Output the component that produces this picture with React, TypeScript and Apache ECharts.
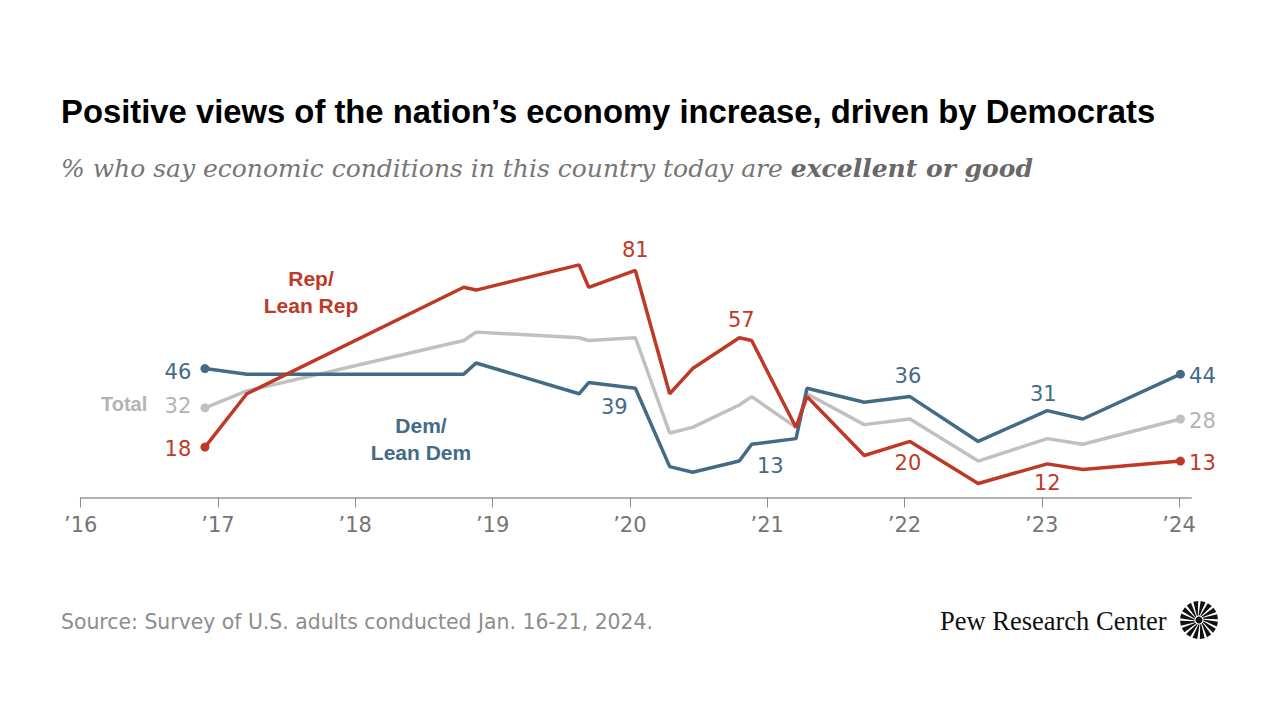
import React, { useEffect, useRef } from "react";
import * as echarts from "echarts";

// Survey dates as decimal years
const surveyYears = [
  2016.905, 2017.21, 2018.79, 2018.88, 2019.63, 2019.7, 2020.04, 2020.29, 2020.457,
  2020.797, 2020.887, 2021.21, 2021.29, 2021.707, 2022.04, 2022.537, 2023.04, 2023.3, 2024.01,
];
const repValues = [18, 37, 75, 74, 83, 75, 81, 37, 46, 57, 56, 25, 36, 15, 20, 5, 12, 10, 13];
const totalValues = [32, 38, 56, 59, 57, 56, 57, 23, 25, 33, 36, 25, 37, 26, 28, 13, 21, 19, 28];
const demValues = [46, 44, 44, 48, 37, 41, 39, 11, 9, 13, 19, 21, 39, 34, 36, 20, 31, 28, 44];

const yearTicks = [2016, 2017, 2018, 2019, 2020, 2021, 2022, 2023, 2024];
const yearTickLabels = ["\u201916", "\u201917", "\u201918", "\u201919", "\u201920", "\u201921", "\u201922", "\u201923", "\u201924"];

const title = "Positive views of the nation\u2019s economy increase, driven by Democrats";
const subtitlePlain = "% who say economic conditions in this country today are ";
const subtitleBold = "excellent or good";
const sourceText = "Source: Survey of U.S. adults conducted Jan. 16-21, 2024.";
const brandText = "Pew Research Center";

const RED = "#bf3a26";
const BLUE = "#436b86";
const GRAY = "#c0c0c0";
const GRAY_TEXT = "#b3b3b3";

// label placement (offset of label centre from its point), keyed by data index
const repLabelOffsets: Record<number, number[]> = {
  0: [-27, 2], 6: [0, -20], 9: [2, -18], 14: [-2, 22], 16: [0, 19], 18: [22, 2],
};
const totalLabelOffsets: Record<number, number[]> = { 0: [-27, -2], 18: [22, 2] };
const demLabelOffsets: Record<number, number[]> = {
  0: [-27, 3], 6: [-21, 19], 9: [31, 5], 14: [-2, -21], 16: [-4, -17], 18: [22, 2],
};

function buildData(values: number[], offsets: Record<number, number[]>, color: string) {
  return values.map((v, i) => {
    const item: any = { value: [surveyYears[i], v] };
    if (offsets[i]) {
      item.label = {
        show: true,
        position: "inside",
        offset: offsets[i],
        color,
      };
    }
    return item;
  });
}

function logoElements(cx: number, cy: number) {
  const els: any[] = [];
  const n = 16;
  for (let k = 0; k < n; k++) {
    const a = (k / n) * Math.PI * 2;
    const r0 = 4.5;
    const r1 = 19;
    const tw = 0.22;
    const pts = [
      [cx + r0 * Math.cos(a - 0.12), cy + r0 * Math.sin(a - 0.12)],
      [cx + r1 * Math.cos(a + tw - 0.13), cy + r1 * Math.sin(a + tw - 0.13)],
      [cx + r1 * Math.cos(a + tw + 0.13), cy + r1 * Math.sin(a + tw + 0.13)],
      [cx + r0 * Math.cos(a + 0.12), cy + r0 * Math.sin(a + 0.12)],
    ];
    els.push({ type: "polygon", shape: { points: pts }, style: { fill: "#111" } });
  }
  els.push({ type: "circle", shape: { cx, cy, r: 3.5 }, style: { fill: "#111" } });
  return els;
}

export default function App() {
  const ref = useRef<HTMLDivElement>(null);
  useEffect(() => {
    if (!ref.current) return;
    const chart = echarts.init(ref.current, null, { renderer: "svg" });
    const labelFont = { fontFamily: "DejaVu Sans", fontSize: 21 };
    const endSymbol = (count: number) => (_v: any, p: any) =>
      p.dataIndex === 0 || p.dataIndex === count - 1 ? 9 : 0;

    const option: any = {
      animation: false,
      backgroundColor: "#ffffff",
      grid: { left: 80.7, right: 89, top: 217.2, bottom: 222.5, containLabel: false },
      xAxis: {
        type: "value",
        min: 2016,
        max: 2024.087,
        interval: 1,
        offset: 1,
        splitLine: { show: false },
        axisLine: { show: true, lineStyle: { color: "#b3b3b3", width: 2 } },
        axisTick: {
          show: true,
          length: 10,
          customValues: yearTicks,
          lineStyle: { color: "#8c8c8c", width: 1 },
        },
        axisLabel: {
          show: true,
          customValues: yearTicks,
          margin: 16,
          color: "#757575",
          fontFamily: "DejaVu Sans",
          fontSize: 21,
          formatter: (v: number) => {
            const i = yearTicks.indexOf(Math.round(v));
            return i >= 0 ? yearTickLabels[i] : "";
          },
        },
      },
      yAxis: {
        type: "value",
        min: 0,
        max: 100,
        show: false,
        splitLine: { show: false },
      },
      series: [
        {
          name: "Total",
          type: "line",
          z: 2,
          silent: true,
          symbol: "circle",
          showSymbol: true,
          symbolSize: endSymbol(totalValues.length),
          itemStyle: { color: GRAY },
          lineStyle: { color: GRAY, width: 3.5 },
          label: { show: false, ...labelFont, color: GRAY_TEXT, formatter: (p: any) => String(p.value[1]) },
          data: buildData(totalValues, totalLabelOffsets, GRAY_TEXT),
        },
        {
          name: "Dem/Lean Dem",
          type: "line",
          z: 3,
          silent: true,
          symbol: "circle",
          showSymbol: true,
          symbolSize: endSymbol(demValues.length),
          itemStyle: { color: BLUE },
          lineStyle: { color: BLUE, width: 3.5 },
          label: { show: false, ...labelFont, color: BLUE, formatter: (p: any) => String(p.value[1]) },
          data: buildData(demValues, demLabelOffsets, BLUE),
        },
        {
          name: "Rep/Lean Rep",
          type: "line",
          z: 4,
          silent: true,
          symbol: "circle",
          showSymbol: true,
          symbolSize: endSymbol(repValues.length),
          itemStyle: { color: RED },
          lineStyle: { color: RED, width: 3.5 },
          label: { show: false, ...labelFont, color: RED, formatter: (p: any) => String(p.value[1]) },
          data: buildData(repValues, repLabelOffsets, RED),
        },
      ],
      graphic: [
        {
          type: "text",
          x: 61,
          y: 111,
          style: {
            text: title,
            fill: "#000",
            font: "bold 32.8px 'Liberation Sans'",
            verticalAlign: "middle",
          },
        },
        {
          type: "text",
          x: 61,
          y: 168,
          style: {
            text: "{a|" + subtitlePlain + "}{b|" + subtitleBold + "}",
            verticalAlign: "middle",
            rich: {
              a: { fontFamily: "DejaVu Serif", fontStyle: "italic", fontSize: 25, fill: "#767676" },
              b: { fontFamily: "DejaVu Serif", fontStyle: "italic", fontWeight: "bold", fontSize: 25, fill: "#686868" },
            },
          },
        },
        {
          type: "text",
          x: 311,
          y: 292,
          style: {
            text: "Rep/\nLean Rep",
            fill: RED,
            font: "bold 21px 'Liberation Sans'",
            align: "center",
            verticalAlign: "middle",
            lineHeight: 27,
          },
        },
        {
          type: "text",
          x: 421,
          y: 438.5,
          style: {
            text: "Dem/\nLean Dem",
            fill: BLUE,
            font: "bold 21px 'Liberation Sans'",
            align: "center",
            verticalAlign: "middle",
            lineHeight: 27,
          },
        },
        {
          type: "text",
          x: 101,
          y: 404,
          style: {
            text: "Total",
            fill: GRAY_TEXT,
            font: "bold 20px 'Liberation Sans'",
            align: "left",
            verticalAlign: "middle",
          },
        },
        {
          type: "text",
          x: 61,
          y: 622,
          style: {
            text: sourceText,
            fill: "#8d8d8d",
            font: "20.4px 'DejaVu Sans'",
            verticalAlign: "middle",
          },
        },
        {
          type: "text",
          x: 940,
          y: 621,
          style: {
            text: brandText,
            fill: "#111",
            font: "26.5px 'Liberation Serif'",
            verticalAlign: "middle",
          },
        },
        ...logoElements(1199, 620),
      ],
    };
    chart.setOption(option);
    return () => chart.dispose();
  }, []);

  return (
    <div
      ref={ref}
      style={{ position: "fixed", left: 0, top: 0, width: 1280, height: 720, background: "#fff" }}
    />
  );
}
